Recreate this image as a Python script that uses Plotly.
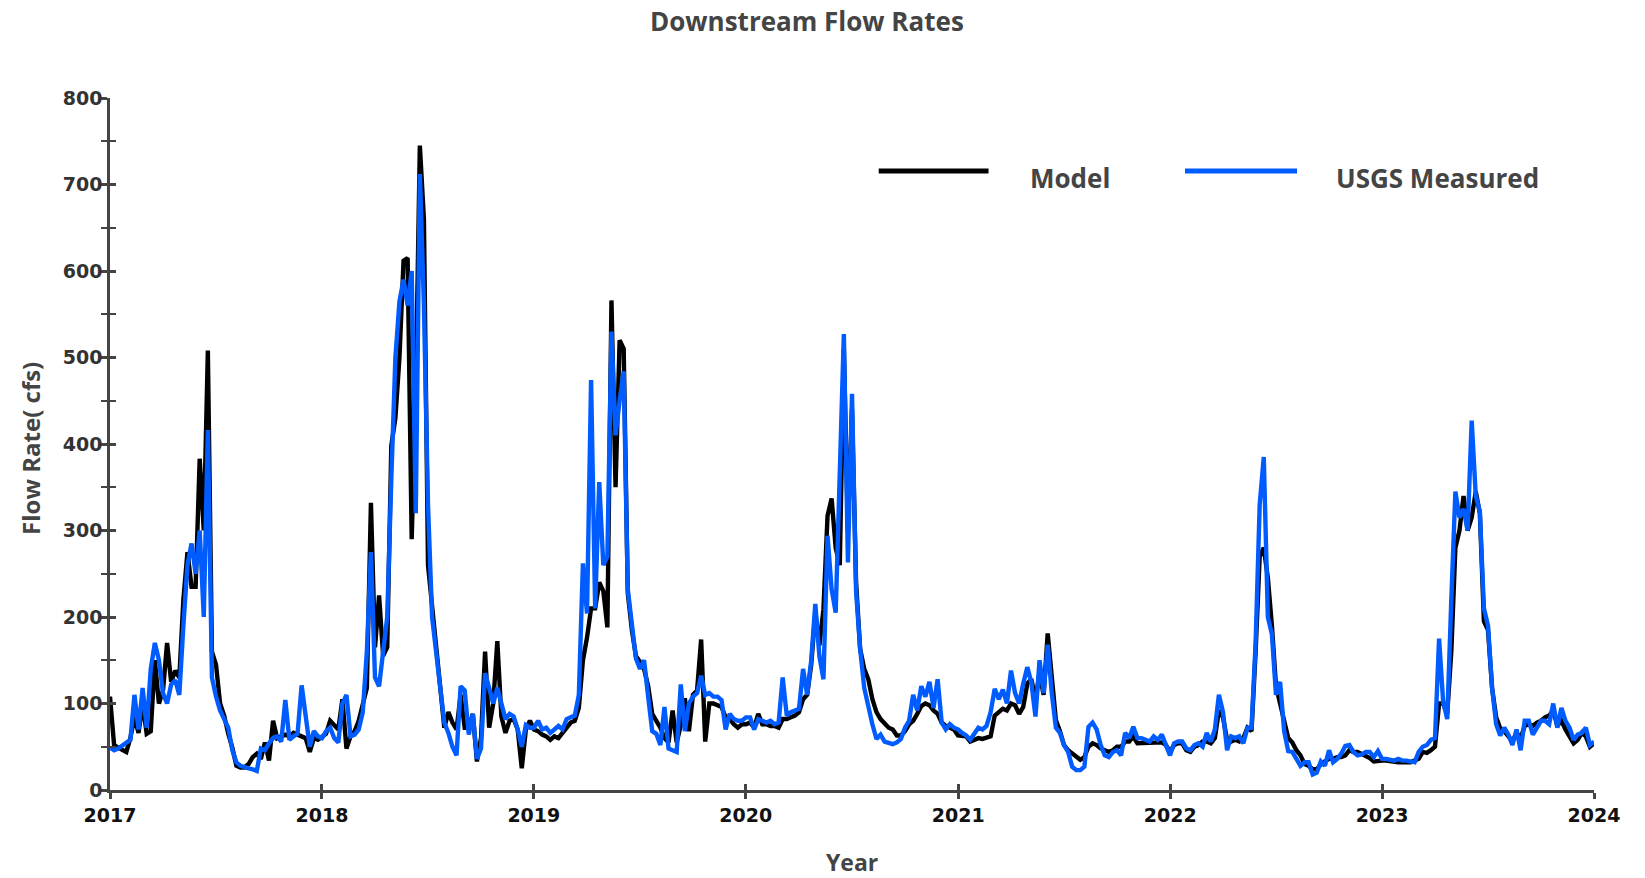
import pandas as pd
import plotly.graph_objects as go

# Weekly flow samples (cfs), 52 per year, plus the closing value at 2024-01-01
model_2017 = [108, 52, 49, 46, 44, 60, 84, 66, 100, 65,
              68, 150, 100, 115, 170, 125, 138, 130, 220, 275,
              235, 235, 383, 300, 508, 160, 145, 100, 86, 65,
              49, 28, 26, 26, 30, 38, 42, 36, 55, 34,
              80, 60, 62, 64, 62, 66, 64, 62, 60, 44,
              60, 58]
usgs_2017 = [49, 46, 48, 51, 54, 58, 110, 70, 118, 72,
             140, 170, 150, 112, 100, 122, 127, 110, 190, 260,
             285, 250, 300, 200, 416, 130, 108, 92, 82, 72,
             46, 32, 28, 26, 25, 24, 22, 48, 46, 54,
             60, 62, 56, 104, 58, 62, 65, 121, 80, 50,
             68, 62]

model_2018 = [62, 65, 80, 75, 70, 105, 48, 62, 68, 80,
              100, 118, 332, 165, 225, 155, 165, 398, 430, 500,
              612, 615, 290, 465, 745, 660, 260, 215, 170, 120,
              72, 90, 78, 70, 110, 72, 72, 88, 33, 60,
              160, 72, 100, 172, 85, 66, 80, 82, 70, 25,
              70, 80]
usgs_2018 = [60, 68, 72, 60, 55, 100, 110, 62, 64, 70,
             90, 160, 275, 130, 120, 165, 200, 360, 500, 565,
             590, 560, 600, 320, 712, 560, 330, 200, 160, 112,
             78, 66, 50, 40, 120, 115, 64, 88, 36, 48,
             135, 118, 100, 118, 100, 82, 88, 85, 70, 50,
             75, 72]

model_2019 = [70, 68, 64, 62, 58, 62, 60, 66, 72, 78,
              80, 95, 150, 176, 210, 210, 240, 230, 188, 566,
              350, 520, 510, 228, 185, 155, 148, 140, 120, 88,
              80, 72, 60, 55, 92, 55, 75, 106, 68, 110,
              115, 174, 56, 100, 100, 98, 96, 84, 82, 76,
              72, 76]
usgs_2019 = [72, 80, 70, 72, 66, 70, 74, 70, 82, 84,
             86, 110, 262, 204, 474, 210, 356, 260, 270, 530,
             410, 450, 484, 232, 190, 152, 140, 150, 108, 68,
             65, 52, 96, 48, 46, 44, 122, 68, 100, 108,
             112, 132, 110, 112, 108, 108, 104, 70, 88, 82,
             80, 80]

model_2020 = [76, 78, 72, 88, 76, 76, 74, 74, 72, 82,
              82, 84, 86, 90, 105, 110, 145, 205, 167, 209,
              317, 337, 280, 260, 510, 300, 440, 240, 163, 140,
              128, 105, 90, 82, 76, 72, 70, 63, 63, 68,
              76, 80, 88, 97, 100, 98, 92, 88, 78, 74,
              72, 70]
usgs_2020 = [84, 84, 70, 82, 80, 78, 80, 76, 78, 130,
             86, 90, 92, 94, 140, 110, 150, 215, 155, 128,
             294, 232, 205, 360, 527, 263, 458, 230, 163, 118,
             95, 76, 59, 64, 56, 54, 53, 55, 59, 72,
             80, 110, 92, 120, 108, 125, 95, 128, 78, 70,
             76, 72]

model_2021 = [63, 63, 62, 56, 58, 60, 59, 60, 62, 86,
              90, 94, 92, 100, 98, 88, 96, 123, 128, 104,
              135, 110, 181, 130, 81, 68, 52, 46, 42, 38,
              35, 38, 50, 54, 52, 48, 46, 44, 46, 50,
              50, 56, 56, 62, 54, 54, 55, 55, 55, 54,
              55, 52]
usgs_2021 = [70, 66, 63, 58, 66, 72, 70, 74, 90, 117,
             105, 116, 100, 138, 112, 100, 123, 142, 124, 85,
             150, 112, 168, 112, 72, 66, 52, 44, 27, 23,
             23, 27, 73, 78, 70, 52, 40, 38, 44, 46,
             40, 66, 60, 73, 60, 60, 58, 56, 62, 58,
             64, 52]

model_2022 = [44, 52, 54, 54, 46, 44, 50, 52, 56, 56,
              54, 60, 92, 84, 58, 56, 58, 56, 60, 72,
              68, 160, 270, 280, 245, 190, 120, 100, 80, 60,
              55, 46, 40, 30, 28, 24, 24, 30, 33, 36,
              36, 38, 38, 40, 46, 44, 44, 42, 40, 37,
              33, 34]
usgs_2022 = [40, 54, 56, 56, 48, 46, 52, 54, 50, 66,
             56, 70, 110, 90, 46, 62, 60, 62, 54, 72,
             72, 170, 330, 385, 200, 180, 110, 125, 68, 45,
             44, 36, 28, 32, 32, 18, 20, 33, 28, 46,
             32, 36, 42, 51, 52, 44, 40, 41, 44, 44,
             38, 45]

model_2023 = [34, 34, 33, 32, 32, 32, 32, 32, 34, 36,
              44, 43, 46, 50, 100, 100, 88, 160, 280, 300,
              340, 300, 315, 345, 320, 195, 185, 118, 84, 71,
              68, 62, 56, 66, 60, 74, 76, 74, 78, 80,
              84, 86, 92, 74, 80, 70, 62, 54, 58, 66,
              62, 50]
usgs_2023 = [36, 36, 35, 34, 36, 34, 34, 33, 32, 44,
             50, 52, 58, 60, 175, 102, 82, 220, 345, 315,
             325, 300, 427, 340, 322, 210, 190, 118, 76, 63,
             72, 64, 52, 70, 46, 80, 80, 64, 72, 80,
             80, 76, 100, 72, 95, 80, 72, 58, 64, 66,
             72, 52]

model_end = [54]
usgs_end = [56]

years = list(range(2017, 2025))
year_labels = [str(y) for y in years]
y_ticks = list(range(0, 801, 100))
y_minor = list(range(50, 800, 100))

model = (model_2017 + model_2018 + model_2019 + model_2020
         + model_2021 + model_2022 + model_2023 + model_end)
usgs = (usgs_2017 + usgs_2018 + usgs_2019 + usgs_2020
        + usgs_2021 + usgs_2022 + usgs_2023 + usgs_end)

dates = pd.date_range("2017-01-01", "2024-01-01", periods=len(model))

AXIS = "#444444"
BLUE = "#005CFF"

fig = go.Figure()
fig.add_trace(go.Scatter(x=dates, y=model, mode="lines", name="Model",
                         line=dict(color="black", width=4.4)))
fig.add_trace(go.Scatter(x=dates, y=usgs, mode="lines", name="USGS Measured",
                         line=dict(color=BLUE, width=4.4)))
# empty trace that hosts the inner half of the crossing tick marks
fig.add_trace(go.Scatter(x=[], y=[], xaxis="x2", yaxis="y2",
                         showlegend=False, hoverinfo="skip"))

x_range = ["2017-01-01", "2024-01-01"]
tick_dates = [f"{y}-01-01" for y in years]

fig.update_layout(
    width=1645, height=878,
    margin=dict(l=110, r=51, t=98, b=88),
    plot_bgcolor="white", paper_bgcolor="white",
    showlegend=False,
    xaxis=dict(type="date", range=x_range, tickvals=tick_dates, ticktext=year_labels,
               showgrid=False, zeroline=False, showline=True, linecolor=AXIS, linewidth=2.5,
               ticks="outside", ticklen=6, tickwidth=2.5, tickcolor=AXIS,
               tickfont=dict(family="DejaVu Sans", size=19, color="#111", weight="bold")),
    yaxis=dict(range=[0, 800], tickvals=y_ticks,
               showgrid=False, zeroline=False, showline=True, linecolor=AXIS, linewidth=2.5,
               ticks="outside", ticklen=6, tickwidth=2.5, tickcolor=AXIS, ticklabelstandoff=-5,
               minor=dict(tickvals=y_minor, ticks="outside", ticklen=6, tickwidth=2, tickcolor=AXIS),
               tickfont=dict(family="DejaVu Sans", size=19, color="#333", weight="bold")),
    xaxis2=dict(type="date", range=x_range, overlaying="x", anchor="y2", side="bottom",
                tickvals=tick_dates, showticklabels=False, showgrid=False, zeroline=False,
                showline=False, ticks="inside", ticklen=6, tickwidth=2.5, tickcolor=AXIS),
    yaxis2=dict(range=[0, 800], overlaying="y", anchor="x2", side="left",
                tickvals=y_ticks, showticklabels=False, showgrid=False, zeroline=False,
                showline=False, ticks="inside", ticklen=6, tickwidth=2.5, tickcolor=AXIS,
                minor=dict(tickvals=y_minor, ticks="inside", ticklen=6, tickwidth=2, tickcolor=AXIS)),
)

# title and axis titles
fig.add_annotation(text="Downstream Flow Rates", xref="paper", yref="paper",
                   x=0.470, y=1.111, showarrow=False, xanchor="center", yanchor="middle",
                   font=dict(family="Open Sans", size=26, color="#444", weight="bold"))
fig.add_annotation(text="Flow Rate( cfs)", xref="paper", yref="paper",
                   x=-0.0532, y=0.493, showarrow=False, textangle=-90,
                   xanchor="center", yanchor="middle",
                   font=dict(family="Open Sans", size=24, color="#444", weight="bold"))
fig.add_annotation(text="Year", xref="paper", yref="paper",
                   x=0.5, y=-0.1035, showarrow=False, xanchor="center", yanchor="middle",
                   font=dict(family="Open Sans", size=23, color="#444", weight="bold"))

# legend drawn as long line samples with labels
legend_items = [("Model", "black", 0.518, 0.592, 0.6186),
                ("USGS Measured", BLUE, 0.7244, 0.7999, 0.8248)]
for label, color, x0, x1, xt in legend_items:
    fig.add_shape(type="line", xref="paper", yref="paper", x0=x0, x1=x1,
                  y0=0.8945, y1=0.8945, line=dict(color=color, width=5))
    fig.add_annotation(text=label, xref="paper", yref="paper", x=xt, y=0.884,
                       showarrow=False, xanchor="left", yanchor="middle",
                       font=dict(family="Open Sans", size=26, color="#444", weight="bold"))

fig.write_html("out.html")
